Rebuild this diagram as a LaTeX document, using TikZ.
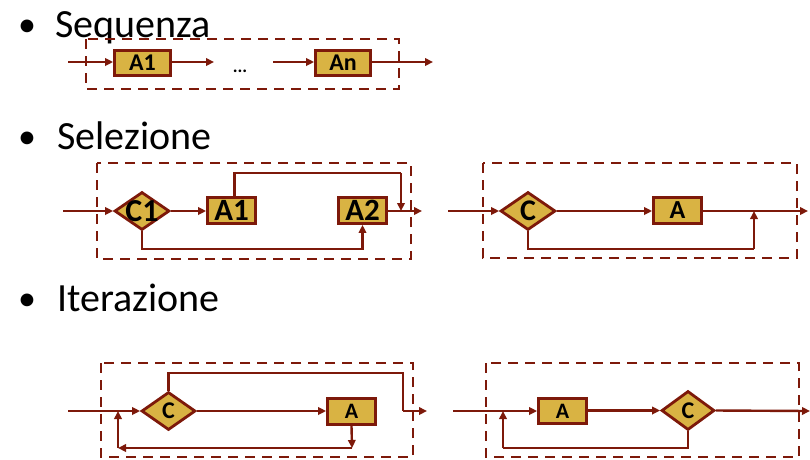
\documentclass[tikz,border=0pt]{standalone}
\usepackage{fontspec}
\setmainfont{Carlito}
\usetikzlibrary{arrows.meta,shapes.geometric}
\definecolor{lc}{RGB}{125,25,10}
\definecolor{fc}{RGB}{217,179,67}
\tikzset{
  x=1pt,y=-1pt,
  box/.style={draw=lc,fill=fc,line width=2.8pt,rectangle,inner sep=0pt,font=\bfseries},
  dia/.style={draw=lc,fill=fc,line width=2.8pt,diamond,inner sep=0pt},
  arr/.style={draw=lc,line width=2.4pt,-{Triangle[length=8pt,width=7.5pt]}},
  ln/.style={draw=lc,line width=2.4pt},
  dashbox/.style={draw=lc,line width=2.6pt,dash pattern=on 10pt off 7pt},
  head/.style={anchor=base west,inner sep=0pt,font=\fontsize{40}{48}\selectfont},
  bul/.style={anchor=base,inner sep=0pt,font=\fontsize{36}{48}\selectfont},
  lab/.style={inner sep=0pt,font=\bfseries}
}
\begin{document}
\begin{tikzpicture}
\useasboundingbox (0,0) rectangle (810,459);
% headings
\node[bul] (b1) at (27,36) {•};
\node[head] (h1) at (55,37) {Sequenza};
\node[bul] (b2) at (27,148) {•};
\node[head] (h2) at (57,149) {Selezione};
\node[bul] (b3) at (27,310) {•};
\node[head] (h3) at (57,311) {Iterazione};

% ---------- Sequenza ----------
\draw[dashbox] (86,39) rectangle (399,89);
\node[box,minimum width=56,minimum height=25,font=\bfseries\fontsize{24}{26}\selectfont] (sA1) at (142.5,63) {A1};
\node[box,minimum width=55,minimum height=25,font=\bfseries\fontsize{24}{26}\selectfont] (sAn) at (343,63) {An};
\coordinate (s0) at (68,62);
\coordinate (s1) at (214,62);
\coordinate (s2) at (273,62);
\coordinate (s3) at (433,62);
\node[lab,font=\bfseries\fontsize{18}{20}\selectfont] (sdots) at (240,71) {...};
\draw[arr] (s0) -- (sA1.west |- s0);
\draw[arr] (sA1.east |- s1) -- (s1);
\draw[arr] (s2) -- (sAn.west |- s2);
\draw[arr] (sAn.east |- s3) -- (s3);

% ---------- Selezione (left) ----------
\draw[dashbox] (97,163) rectangle (411,259);
\node[dia,minimum width=55,minimum height=38,label={[lab,font=\bfseries\fontsize{32}{34}\selectfont]center:C1}] (lC) at (142,211) {};
\node[box,minimum width=48,minimum height=26,font=\bfseries\fontsize{31}{34}\selectfont] (lA1) at (231.5,210.5) {A1};
\node[box,minimum width=48,minimum height=26,font=\bfseries\fontsize{31}{34}\selectfont] (lA2) at (362.5,210.5) {A2};
\coordinate (l0) at (63,211);
\coordinate (lt) at (401,173);
\coordinate (lm) at (401,211);
\coordinate (lo) at (422,211);
\coordinate (lb) at (142,249);
\draw[arr] (l0) -- (lC.west);
\draw[arr] (lC.east) -- (lA1.west |- lC.east);
\draw[ln] ([xshift=3pt]lA1.north) |- (lt);
\draw[arr] (lt) -- (lm);
\draw[arr] (lA2.east |- lo) -- (lo);
\draw[arr] (lC.south) |- (lb) -| (lA2.south);

% ---------- Selezione (right) ----------
\draw[dashbox] (483,163) rectangle (797,258);
\node[dia,minimum width=55,minimum height=38,label={[lab,font=\bfseries\fontsize{30}{32}\selectfont]center:C}] (rC) at (528,211) {};
\node[box,minimum width=48,minimum height=26,font=\bfseries\fontsize{26}{28}\selectfont] (rA) at (677.5,210.5) {A};
\coordinate (r0) at (448,211);
\coordinate (ro) at (808,211);
\coordinate (rb) at (754,249);
\coordinate (rm) at (754,211);
\draw[arr] (r0) -- (rC.west);
\draw[arr] (rC.east) -- (rA.west |- rC.east);
\draw[arr] (rA.east |- ro) -- (ro);
\draw[ln] (rC.south) |- (rb);
\draw[arr] (rb) -- (rm);

% ---------- Iterazione (left) ----------
\draw[dashbox] (101,363) rectangle (413,457);
\node[dia,minimum width=54,minimum height=38,label={[lab,font=\bfseries\fontsize{24}{26}\selectfont]center:C}] (iC) at (168.5,411) {};
\node[box,minimum width=48,minimum height=26,font=\bfseries\fontsize{22}{24}\selectfont] (iA) at (351.5,411.5) {A};
\coordinate (i0) at (68,411);
\coordinate (it) at (403,373);
\coordinate (im) at (403,411);
\coordinate (io) at (427,411);
\coordinate (ib) at (352,448);
\coordinate (ibl) at (118,448);
\coordinate (iml) at (118,411);
\draw[arr] (i0) -- (iC.west);
\draw[ln] (iC.north) |- (it) -- (im);
\draw[arr] (im) -- (io);
\draw[arr] (iC.east) -- (iA.west |- iC.east);
\draw[arr] (iA.south) -- (ib);
\draw[arr] (ib) -- (ibl);
\draw[arr] (ibl) -- (iml);

% ---------- Iterazione (right) ----------
\draw[dashbox] (486,363) rectangle (799,457);
\node[box,minimum width=48,minimum height=25,font=\bfseries\fontsize{22}{24}\selectfont] (jA) at (562.5,411) {A};
\node[dia,minimum width=53,minimum height=39,label={[lab,font=\bfseries\fontsize{24}{26}\selectfont]center:C}] (jC) at (688,410.5) {};
\coordinate (j0) at (453,411);
\coordinate (jo) at (810,411);
\coordinate (jb) at (503,448);
\coordinate (jm) at (503,411);
\draw[arr] (j0) -- (jA.west |- j0);
\draw[arr] (jA.east |- jC.west) -- (jC.west);
\draw[arr] (jC.east) -- (jo);
\draw[ln] (jC.south) |- (jb);
\draw[arr] (jb) -- (jm);
\end{tikzpicture}
\end{document}
